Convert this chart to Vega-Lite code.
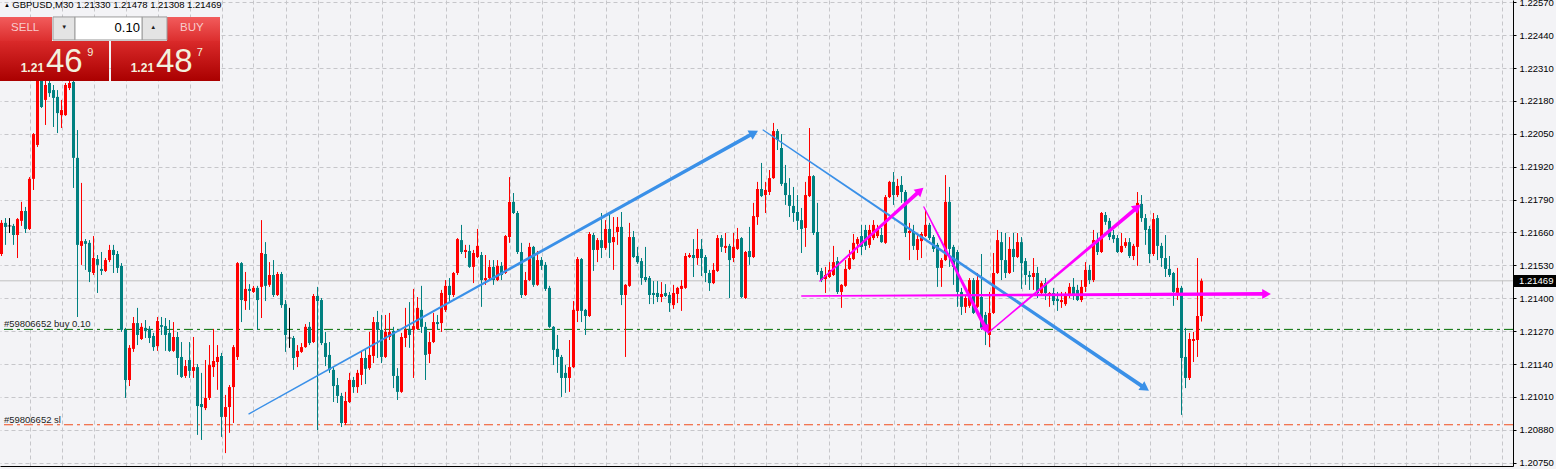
{
"$schema":"https://vega.github.io/schema/vega-lite/v6.json",
"width":1513,"height":466,
"autosize":{"type":"none"},
"padding":{"left":0,"top":0,"right":43,"bottom":3},
"background":"#f3f3f6",
"config":{"view":{"stroke":null},"font":"Liberation Sans",
 "scale":{"continuousPadding":0},
 "axisX":{"grid":true,"gridColor":"#c6c6ca","gridDash":[4,3],"gridWidth":1,"labels":false,"ticks":false,"domain":true,"domainColor":"#000000","domainWidth":1},
 "axisY":{"grid":true,"gridColor":"#c6c6ca","gridDash":[4,3],"gridWidth":1,"domain":true,"domainColor":"#000000","domainWidth":1,"ticks":true,"tickSize":3,"tickColor":"#000000","labelColor":"#000000","labelFont":"Liberation Sans","labelFontSize":9.5,"labelPadding":3,"labelOverlap":false,"labelBound":false,"labelFlush":false}},
"datasets":{"candles":[
{"i":0,"o":1.21575,"h":1.21709,"l":1.21567,"c":1.21698},
{"i":1,"o":1.21698,"h":1.21717,"l":1.21611,"c":1.21682},
{"i":2,"o":1.21686,"h":1.21717,"l":1.21658,"c":1.21686},
{"i":3,"o":1.21686,"h":1.21694,"l":1.21611,"c":1.2165},
{"i":4,"o":1.2165,"h":1.21717,"l":1.21559,"c":1.21713},
{"i":5,"o":1.21706,"h":1.21781,"l":1.21686,"c":1.21745},
{"i":6,"o":1.21745,"h":1.21761,"l":1.21658,"c":1.21674},
{"i":7,"o":1.21674,"h":1.21879,"l":1.2167,"c":1.21872},
{"i":8,"o":1.21872,"h":1.22053,"l":1.21828,"c":1.22049},
{"i":9,"o":1.22006,"h":1.22283,"l":1.21998,"c":1.22263},
{"i":10,"o":1.22263,"h":1.22294,"l":1.22152,"c":1.22156},
{"i":11,"o":1.22184,"h":1.22263,"l":1.22085,"c":1.22243},
{"i":12,"o":1.22251,"h":1.22271,"l":1.22196,"c":1.22211},
{"i":13,"o":1.22223,"h":1.22243,"l":1.22077,"c":1.22192},
{"i":14,"o":1.22196,"h":1.22223,"l":1.22053,"c":1.22132},
{"i":15,"o":1.22124,"h":1.22184,"l":1.22073,"c":1.22144},
{"i":16,"o":1.22124,"h":1.22251,"l":1.22121,"c":1.22243},
{"i":17,"o":1.22231,"h":1.22263,"l":1.22223,"c":1.22251},
{"i":18,"o":1.22255,"h":1.22271,"l":1.21836,"c":1.21955},
{"i":19,"o":1.21955,"h":1.22065,"l":1.21326,"c":1.21611},
{"i":20,"o":1.21607,"h":1.21856,"l":1.21532,"c":1.21626},
{"i":21,"o":1.21626,"h":1.21634,"l":1.21512,"c":1.21615},
{"i":22,"o":1.21619,"h":1.2163,"l":1.21464,"c":1.21504},
{"i":23,"o":1.215,"h":1.21646,"l":1.21492,"c":1.21559},
{"i":24,"o":1.21555,"h":1.21571,"l":1.21421,"c":1.21532},
{"i":25,"o":1.21516,"h":1.21583,"l":1.21492,"c":1.21508},
{"i":26,"o":1.21508,"h":1.21559,"l":1.21504,"c":1.21551},
{"i":27,"o":1.21551,"h":1.21611,"l":1.21543,"c":1.21591},
{"i":28,"o":1.21591,"h":1.21611,"l":1.215,"c":1.21571},
{"i":29,"o":1.21575,"h":1.21587,"l":1.215,"c":1.2152},
{"i":30,"o":1.21528,"h":1.21539,"l":1.21267,"c":1.21275},
{"i":31,"o":1.21275,"h":1.21283,"l":1.21006,"c":1.21077},
{"i":32,"o":1.21077,"h":1.21215,"l":1.21053,"c":1.21204},
{"i":33,"o":1.212,"h":1.21326,"l":1.21188,"c":1.21302},
{"i":34,"o":1.21302,"h":1.21362,"l":1.21215,"c":1.21255},
{"i":35,"o":1.21239,"h":1.21302,"l":1.21235,"c":1.21287},
{"i":36,"o":1.21283,"h":1.21314,"l":1.21243,"c":1.21271},
{"i":37,"o":1.21279,"h":1.2129,"l":1.21223,"c":1.21243},
{"i":38,"o":1.21251,"h":1.21263,"l":1.21192,"c":1.21207},
{"i":39,"o":1.21211,"h":1.21326,"l":1.21192,"c":1.2131},
{"i":40,"o":1.21294,"h":1.21326,"l":1.21255,"c":1.21287},
{"i":41,"o":1.2129,"h":1.21322,"l":1.21192,"c":1.21255},
{"i":42,"o":1.21263,"h":1.21314,"l":1.21188,"c":1.21192},
{"i":43,"o":1.21192,"h":1.21306,"l":1.21188,"c":1.21247},
{"i":44,"o":1.21247,"h":1.21267,"l":1.21097,"c":1.21164},
{"i":45,"o":1.21168,"h":1.21227,"l":1.21085,"c":1.21089},
{"i":46,"o":1.21093,"h":1.21156,"l":1.21085,"c":1.21132},
{"i":47,"o":1.21156,"h":1.21227,"l":1.21085,"c":1.21113},
{"i":48,"o":1.21113,"h":1.21247,"l":1.21085,"c":1.21128},
{"i":49,"o":1.21128,"h":1.2114,"l":1.2086,"c":1.20974},
{"i":50,"o":1.20982,"h":1.21105,"l":1.2084,"c":1.2097},
{"i":51,"o":1.20966,"h":1.21156,"l":1.20958,"c":1.21006},
{"i":52,"o":1.21006,"h":1.21215,"l":1.20998,"c":1.21136},
{"i":53,"o":1.21128,"h":1.21279,"l":1.21089,"c":1.21152},
{"i":54,"o":1.21148,"h":1.21215,"l":1.21038,"c":1.21168},
{"i":55,"o":1.21172,"h":1.21184,"l":1.20852,"c":1.20931},
{"i":56,"o":1.20931,"h":1.21018,"l":1.20788,"c":1.2097},
{"i":57,"o":1.2097,"h":1.21057,"l":1.20868,"c":1.21049},
{"i":58,"o":1.21049,"h":1.21215,"l":1.20907,"c":1.21207},
{"i":59,"o":1.21168,"h":1.21543,"l":1.21156,"c":1.21539},
{"i":60,"o":1.21539,"h":1.21543,"l":1.21306,"c":1.21393},
{"i":61,"o":1.21389,"h":1.21504,"l":1.21354,"c":1.21437},
{"i":62,"o":1.21437,"h":1.21456,"l":1.21354,"c":1.21429},
{"i":63,"o":1.21425,"h":1.21449,"l":1.21421,"c":1.21441},
{"i":64,"o":1.21441,"h":1.21449,"l":1.21275,"c":1.21393},
{"i":65,"o":1.21445,"h":1.21709,"l":1.21322,"c":1.21579},
{"i":66,"o":1.21575,"h":1.21622,"l":1.21389,"c":1.21449},
{"i":67,"o":1.21453,"h":1.21543,"l":1.21445,"c":1.21492},
{"i":68,"o":1.21492,"h":1.21551,"l":1.21405,"c":1.21413},
{"i":69,"o":1.21413,"h":1.21504,"l":1.21409,"c":1.21496},
{"i":70,"o":1.21496,"h":1.21504,"l":1.21362,"c":1.21373},
{"i":71,"o":1.21377,"h":1.21393,"l":1.21188,"c":1.21255},
{"i":72,"o":1.21243,"h":1.21362,"l":1.21204,"c":1.21243},
{"i":73,"o":1.21243,"h":1.21251,"l":1.21117,"c":1.21164},
{"i":74,"o":1.21168,"h":1.21215,"l":1.21128,"c":1.21192},
{"i":75,"o":1.21188,"h":1.21223,"l":1.21184,"c":1.21207},
{"i":76,"o":1.21207,"h":1.21298,"l":1.21204,"c":1.21287},
{"i":77,"o":1.21287,"h":1.21306,"l":1.21215,"c":1.21223},
{"i":78,"o":1.21227,"h":1.21417,"l":1.21223,"c":1.21409},
{"i":79,"o":1.21409,"h":1.21445,"l":1.20879,"c":1.21389},
{"i":80,"o":1.21393,"h":1.21401,"l":1.21215,"c":1.21223},
{"i":81,"o":1.21223,"h":1.21267,"l":1.21132,"c":1.21168},
{"i":82,"o":1.21176,"h":1.21227,"l":1.21105,"c":1.21117},
{"i":83,"o":1.21117,"h":1.21128,"l":1.2099,"c":1.21053},
{"i":84,"o":1.21057,"h":1.21085,"l":1.20986,"c":1.21014},
{"i":85,"o":1.21014,"h":1.21026,"l":1.20891,"c":1.20907},
{"i":86,"o":1.20907,"h":1.2103,"l":1.20899,"c":1.20994},
{"i":87,"o":1.2099,"h":1.21105,"l":1.20986,"c":1.21077},
{"i":88,"o":1.21077,"h":1.21089,"l":1.21026,"c":1.21049},
{"i":89,"o":1.21049,"h":1.21117,"l":1.21026,"c":1.21105},
{"i":90,"o":1.21097,"h":1.21188,"l":1.21057,"c":1.21164},
{"i":91,"o":1.21164,"h":1.21196,"l":1.21061,"c":1.21121},
{"i":92,"o":1.21124,"h":1.21267,"l":1.21117,"c":1.21176},
{"i":93,"o":1.21172,"h":1.21326,"l":1.21144,"c":1.21306},
{"i":94,"o":1.21306,"h":1.2135,"l":1.21164,"c":1.21275},
{"i":95,"o":1.21275,"h":1.21334,"l":1.21144,"c":1.21168},
{"i":96,"o":1.21168,"h":1.21334,"l":1.21164,"c":1.21267},
{"i":97,"o":1.21247,"h":1.21342,"l":1.21235,"c":1.21267},
{"i":98,"o":1.21271,"h":1.21287,"l":1.21045,"c":1.21093},
{"i":99,"o":1.21093,"h":1.21124,"l":1.20998,"c":1.2103},
{"i":100,"o":1.2103,"h":1.21263,"l":1.21026,"c":1.21247},
{"i":101,"o":1.21243,"h":1.21362,"l":1.21207,"c":1.21275},
{"i":102,"o":1.21279,"h":1.21385,"l":1.21204,"c":1.21255},
{"i":103,"o":1.21275,"h":1.21437,"l":1.21085,"c":1.2129},
{"i":104,"o":1.21279,"h":1.21405,"l":1.21275,"c":1.21362},
{"i":105,"o":1.21354,"h":1.21449,"l":1.21263,"c":1.21287},
{"i":106,"o":1.21287,"h":1.21306,"l":1.21077,"c":1.21176},
{"i":107,"o":1.2118,"h":1.21267,"l":1.21144,"c":1.21227},
{"i":108,"o":1.21227,"h":1.21342,"l":1.21223,"c":1.21306},
{"i":109,"o":1.21306,"h":1.21334,"l":1.21275,"c":1.21298},
{"i":110,"o":1.21302,"h":1.21433,"l":1.21267,"c":1.21421},
{"i":111,"o":1.21354,"h":1.21472,"l":1.21346,"c":1.21449},
{"i":112,"o":1.21449,"h":1.2148,"l":1.21381,"c":1.21413},
{"i":113,"o":1.21413,"h":1.21504,"l":1.21405,"c":1.215},
{"i":114,"o":1.215,"h":1.21638,"l":1.21492,"c":1.21634},
{"i":115,"o":1.2163,"h":1.2169,"l":1.21575,"c":1.21583},
{"i":116,"o":1.21583,"h":1.21611,"l":1.21559,"c":1.21591},
{"i":117,"o":1.21587,"h":1.21611,"l":1.2152,"c":1.21524},
{"i":118,"o":1.21524,"h":1.21591,"l":1.2146,"c":1.21579},
{"i":119,"o":1.21563,"h":1.21674,"l":1.21559,"c":1.21607},
{"i":120,"o":1.21571,"h":1.21583,"l":1.21366,"c":1.21472},
{"i":121,"o":1.21472,"h":1.21571,"l":1.21453,"c":1.2148},
{"i":122,"o":1.2148,"h":1.21551,"l":1.21472,"c":1.21524},
{"i":123,"o":1.21524,"h":1.21551,"l":1.21453,"c":1.21472},
{"i":124,"o":1.21472,"h":1.21551,"l":1.21468,"c":1.21528},
{"i":125,"o":1.21528,"h":1.21543,"l":1.21472,"c":1.21492},
{"i":126,"o":1.215,"h":1.2165,"l":1.21496,"c":1.21646},
{"i":127,"o":1.21642,"h":1.21879,"l":1.21619,"c":1.21781},
{"i":128,"o":1.21781,"h":1.21816,"l":1.21733,"c":1.21737},
{"i":129,"o":1.21737,"h":1.21745,"l":1.21575,"c":1.21583},
{"i":130,"o":1.21583,"h":1.21619,"l":1.21401,"c":1.21413},
{"i":131,"o":1.21413,"h":1.21504,"l":1.21409,"c":1.21472},
{"i":132,"o":1.21472,"h":1.21619,"l":1.21468,"c":1.21603},
{"i":133,"o":1.21603,"h":1.21607,"l":1.21445,"c":1.21453},
{"i":134,"o":1.21453,"h":1.21587,"l":1.21449,"c":1.21551},
{"i":135,"o":1.21551,"h":1.21563,"l":1.21512,"c":1.21528},
{"i":136,"o":1.21532,"h":1.21543,"l":1.21429,"c":1.21437},
{"i":137,"o":1.21441,"h":1.21449,"l":1.21283,"c":1.21287},
{"i":138,"o":1.21287,"h":1.2129,"l":1.21136,"c":1.21196},
{"i":139,"o":1.212,"h":1.21255,"l":1.21105,"c":1.21168},
{"i":140,"o":1.21168,"h":1.21176,"l":1.2101,"c":1.21085},
{"i":141,"o":1.21105,"h":1.21136,"l":1.21026,"c":1.21085},
{"i":142,"o":1.21085,"h":1.21235,"l":1.2103,"c":1.21128},
{"i":143,"o":1.21128,"h":1.21389,"l":1.21124,"c":1.21354},
{"i":144,"o":1.2135,"h":1.21563,"l":1.21306,"c":1.21555},
{"i":145,"o":1.21555,"h":1.21559,"l":1.21306,"c":1.2135},
{"i":146,"o":1.21354,"h":1.21358,"l":1.21255,"c":1.2133},
{"i":147,"o":1.2133,"h":1.21662,"l":1.21326,"c":1.21654},
{"i":148,"o":1.2165,"h":1.21658,"l":1.21508,"c":1.21591},
{"i":149,"o":1.21591,"h":1.21638,"l":1.21543,"c":1.2163},
{"i":150,"o":1.2163,"h":1.21737,"l":1.21559,"c":1.21599},
{"i":151,"o":1.21599,"h":1.21709,"l":1.21591,"c":1.21674},
{"i":152,"o":1.21674,"h":1.21737,"l":1.21559,"c":1.21619},
{"i":153,"o":1.21622,"h":1.21721,"l":1.21512,"c":1.21642},
{"i":154,"o":1.21662,"h":1.21721,"l":1.21611,"c":1.21682},
{"i":155,"o":1.21682,"h":1.21741,"l":1.21373,"c":1.21413},
{"i":156,"o":1.21413,"h":1.21456,"l":1.21168,"c":1.21453},
{"i":157,"o":1.21449,"h":1.21698,"l":1.21445,"c":1.21642},
{"i":158,"o":1.21642,"h":1.21666,"l":1.21559,"c":1.21563},
{"i":159,"o":1.21567,"h":1.21603,"l":1.21536,"c":1.21543},
{"i":160,"o":1.21547,"h":1.21559,"l":1.21453,"c":1.2148},
{"i":161,"o":1.21484,"h":1.21603,"l":1.21464,"c":1.21472},
{"i":162,"o":1.2148,"h":1.21488,"l":1.21377,"c":1.21413},
{"i":163,"o":1.21421,"h":1.21468,"l":1.21377,"c":1.21413},
{"i":164,"o":1.21421,"h":1.21468,"l":1.21385,"c":1.21405},
{"i":165,"o":1.21405,"h":1.21464,"l":1.21385,"c":1.21417},
{"i":166,"o":1.21421,"h":1.21456,"l":1.21405,"c":1.21409},
{"i":167,"o":1.21413,"h":1.21425,"l":1.21346,"c":1.21381},
{"i":168,"o":1.21373,"h":1.21453,"l":1.21358,"c":1.21421},
{"i":169,"o":1.21417,"h":1.21445,"l":1.21381,"c":1.21441},
{"i":170,"o":1.21437,"h":1.21472,"l":1.2135,"c":1.21449},
{"i":171,"o":1.21441,"h":1.21579,"l":1.21437,"c":1.21567},
{"i":172,"o":1.21563,"h":1.21579,"l":1.21559,"c":1.21571},
{"i":173,"o":1.21571,"h":1.21634,"l":1.21484,"c":1.21559},
{"i":174,"o":1.21559,"h":1.21674,"l":1.21532,"c":1.21595},
{"i":175,"o":1.21595,"h":1.21634,"l":1.21488,"c":1.21559},
{"i":176,"o":1.21563,"h":1.21571,"l":1.21464,"c":1.215},
{"i":177,"o":1.215,"h":1.21512,"l":1.21429,"c":1.2146},
{"i":178,"o":1.2146,"h":1.21539,"l":1.21456,"c":1.21512},
{"i":179,"o":1.21508,"h":1.2165,"l":1.21504,"c":1.21638},
{"i":180,"o":1.21638,"h":1.2165,"l":1.21583,"c":1.21603},
{"i":181,"o":1.21599,"h":1.21658,"l":1.21579,"c":1.21607},
{"i":182,"o":1.21607,"h":1.21615,"l":1.21401,"c":1.21551},
{"i":183,"o":1.21559,"h":1.21658,"l":1.21543,"c":1.21603},
{"i":184,"o":1.21595,"h":1.21678,"l":1.21591,"c":1.21634},
{"i":185,"o":1.21638,"h":1.21642,"l":1.21401,"c":1.21405},
{"i":186,"o":1.21401,"h":1.21587,"l":1.21397,"c":1.21583},
{"i":187,"o":1.21587,"h":1.21682,"l":1.21532,"c":1.21563},
{"i":188,"o":1.21563,"h":1.21777,"l":1.21559,"c":1.21725},
{"i":189,"o":1.21721,"h":1.2186,"l":1.2169,"c":1.21832},
{"i":190,"o":1.21832,"h":1.21935,"l":1.218,"c":1.21804},
{"i":191,"o":1.21808,"h":1.2186,"l":1.21737,"c":1.21828},
{"i":192,"o":1.2182,"h":1.21907,"l":1.21808,"c":1.21875},
{"i":193,"o":1.21875,"h":1.22093,"l":1.21872,"c":1.22061},
{"i":194,"o":1.22061,"h":1.22069,"l":1.21986,"c":1.22026},
{"i":195,"o":1.21994,"h":1.22049,"l":1.21844,"c":1.21852},
{"i":196,"o":1.21856,"h":1.21927,"l":1.21769,"c":1.21808},
{"i":197,"o":1.21808,"h":1.21875,"l":1.21721,"c":1.21765},
{"i":198,"o":1.21765,"h":1.2184,"l":1.21702,"c":1.21737},
{"i":199,"o":1.21741,"h":1.21808,"l":1.2167,"c":1.21706},
{"i":200,"o":1.21709,"h":1.21757,"l":1.21579,"c":1.21674},
{"i":201,"o":1.21678,"h":1.2186,"l":1.21603,"c":1.21808},
{"i":202,"o":1.21804,"h":1.22073,"l":1.218,"c":1.21883},
{"i":203,"o":1.21883,"h":1.21887,"l":1.2165,"c":1.21658},
{"i":204,"o":1.21662,"h":1.21777,"l":1.21492,"c":1.21504},
{"i":205,"o":1.21508,"h":1.2152,"l":1.21464,"c":1.21472},
{"i":206,"o":1.21476,"h":1.21524,"l":1.21421,"c":1.21492},
{"i":207,"o":1.21484,"h":1.21543,"l":1.2148,"c":1.21512},
{"i":208,"o":1.21492,"h":1.21607,"l":1.21488,"c":1.21543},
{"i":209,"o":1.21547,"h":1.21563,"l":1.21417,"c":1.21425},
{"i":210,"o":1.21425,"h":1.21456,"l":1.21362,"c":1.21453},
{"i":211,"o":1.21449,"h":1.21551,"l":1.21445,"c":1.21516},
{"i":212,"o":1.21516,"h":1.21591,"l":1.21512,"c":1.21559},
{"i":213,"o":1.21555,"h":1.21654,"l":1.21551,"c":1.21619},
{"i":214,"o":1.21615,"h":1.21642,"l":1.21579,"c":1.21634},
{"i":215,"o":1.21646,"h":1.2169,"l":1.21571,"c":1.21603},
{"i":216,"o":1.2167,"h":1.2169,"l":1.21591,"c":1.21607},
{"i":217,"o":1.21611,"h":1.2169,"l":1.21599,"c":1.2167},
{"i":218,"o":1.21638,"h":1.21709,"l":1.2163,"c":1.2169},
{"i":219,"o":1.21646,"h":1.2169,"l":1.21638,"c":1.2167},
{"i":220,"o":1.2165,"h":1.21678,"l":1.21619,"c":1.21622},
{"i":221,"o":1.21619,"h":1.21808,"l":1.21615,"c":1.218},
{"i":222,"o":1.218,"h":1.21864,"l":1.21796,"c":1.2186},
{"i":223,"o":1.2186,"h":1.21899,"l":1.21769,"c":1.21808},
{"i":224,"o":1.21808,"h":1.21872,"l":1.218,"c":1.21844},
{"i":225,"o":1.21848,"h":1.21883,"l":1.21777,"c":1.2182},
{"i":226,"o":1.2182,"h":1.21828,"l":1.21642,"c":1.21658},
{"i":227,"o":1.21658,"h":1.21698,"l":1.21551,"c":1.21666},
{"i":228,"o":1.21666,"h":1.2169,"l":1.21591,"c":1.21607},
{"i":229,"o":1.21591,"h":1.2165,"l":1.21551,"c":1.21634},
{"i":230,"o":1.21626,"h":1.21662,"l":1.21559,"c":1.21654},
{"i":231,"o":1.21646,"h":1.21749,"l":1.21642,"c":1.2169},
{"i":232,"o":1.2169,"h":1.21698,"l":1.2163,"c":1.21638},
{"i":233,"o":1.21642,"h":1.2165,"l":1.21583,"c":1.21595},
{"i":234,"o":1.21611,"h":1.21619,"l":1.21445,"c":1.2152},
{"i":235,"o":1.2152,"h":1.21559,"l":1.21445,"c":1.21551},
{"i":236,"o":1.21551,"h":1.21887,"l":1.21547,"c":1.21781},
{"i":237,"o":1.21781,"h":1.2184,"l":1.21524,"c":1.21595},
{"i":238,"o":1.21603,"h":1.21611,"l":1.21453,"c":1.21524},
{"i":239,"o":1.21583,"h":1.21591,"l":1.21366,"c":1.21425},
{"i":240,"o":1.21425,"h":1.21441,"l":1.21334,"c":1.21366},
{"i":241,"o":1.21366,"h":1.21409,"l":1.21342,"c":1.21401},
{"i":242,"o":1.2137,"h":1.2148,"l":1.21362,"c":1.21472},
{"i":243,"o":1.21472,"h":1.2148,"l":1.21338,"c":1.21342},
{"i":244,"o":1.21366,"h":1.215,"l":1.21362,"c":1.21472},
{"i":245,"o":1.21405,"h":1.21575,"l":1.21275,"c":1.21283},
{"i":246,"o":1.21334,"h":1.21346,"l":1.21215,"c":1.21275},
{"i":247,"o":1.21255,"h":1.21425,"l":1.21207,"c":1.21342},
{"i":248,"o":1.21342,"h":1.21579,"l":1.21338,"c":1.215},
{"i":249,"o":1.215,"h":1.2167,"l":1.21496,"c":1.2163},
{"i":250,"o":1.21622,"h":1.21662,"l":1.21472,"c":1.21551},
{"i":251,"o":1.21551,"h":1.21658,"l":1.2148,"c":1.215},
{"i":252,"o":1.215,"h":1.21642,"l":1.21496,"c":1.21595},
{"i":253,"o":1.21595,"h":1.21658,"l":1.21504,"c":1.21563},
{"i":254,"o":1.21563,"h":1.21658,"l":1.21559,"c":1.21622},
{"i":255,"o":1.21622,"h":1.21642,"l":1.21437,"c":1.21539},
{"i":256,"o":1.21547,"h":1.21559,"l":1.21453,"c":1.21492},
{"i":257,"o":1.21492,"h":1.21508,"l":1.21433,"c":1.21484},
{"i":258,"o":1.21484,"h":1.21559,"l":1.21433,"c":1.215},
{"i":259,"o":1.215,"h":1.21524,"l":1.21401,"c":1.21421},
{"i":260,"o":1.21421,"h":1.21468,"l":1.21413,"c":1.2146},
{"i":261,"o":1.2146,"h":1.2148,"l":1.21393,"c":1.21421},
{"i":262,"o":1.21413,"h":1.21425,"l":1.21366,"c":1.21421},
{"i":263,"o":1.21421,"h":1.21441,"l":1.21373,"c":1.21389},
{"i":264,"o":1.21397,"h":1.21425,"l":1.2135,"c":1.21389},
{"i":265,"o":1.21385,"h":1.21425,"l":1.21362,"c":1.21393},
{"i":266,"o":1.21377,"h":1.21425,"l":1.2137,"c":1.21409},
{"i":267,"o":1.21409,"h":1.2146,"l":1.21401,"c":1.21445},
{"i":268,"o":1.21445,"h":1.2148,"l":1.21393,"c":1.21409},
{"i":269,"o":1.21433,"h":1.21453,"l":1.21389,"c":1.21393},
{"i":270,"o":1.21393,"h":1.21472,"l":1.21385,"c":1.21445},
{"i":271,"o":1.21445,"h":1.21543,"l":1.21425,"c":1.21512},
{"i":272,"o":1.21512,"h":1.21532,"l":1.21456,"c":1.21472},
{"i":273,"o":1.21472,"h":1.2167,"l":1.21464,"c":1.2163},
{"i":274,"o":1.2163,"h":1.21658,"l":1.21571,"c":1.21583},
{"i":275,"o":1.21583,"h":1.21741,"l":1.21579,"c":1.21737},
{"i":276,"o":1.21729,"h":1.21741,"l":1.2169,"c":1.21702},
{"i":277,"o":1.21706,"h":1.21717,"l":1.2163,"c":1.21642},
{"i":278,"o":1.2165,"h":1.2167,"l":1.21619,"c":1.21634},
{"i":279,"o":1.21638,"h":1.2165,"l":1.21579,"c":1.21583},
{"i":280,"o":1.21583,"h":1.21658,"l":1.21579,"c":1.21607},
{"i":281,"o":1.21607,"h":1.21638,"l":1.21599,"c":1.21622},
{"i":282,"o":1.21622,"h":1.21638,"l":1.21559,"c":1.21567},
{"i":283,"o":1.21567,"h":1.21615,"l":1.21551,"c":1.21607},
{"i":284,"o":1.21603,"h":1.2182,"l":1.21528,"c":1.21777},
{"i":285,"o":1.21773,"h":1.21808,"l":1.21702,"c":1.21717},
{"i":286,"o":1.21717,"h":1.21733,"l":1.21611,"c":1.2167},
{"i":287,"o":1.21674,"h":1.21686,"l":1.21539,"c":1.21575},
{"i":288,"o":1.21575,"h":1.21737,"l":1.21567,"c":1.21713},
{"i":289,"o":1.21717,"h":1.21729,"l":1.21551,"c":1.21607},
{"i":290,"o":1.21607,"h":1.21619,"l":1.21524,"c":1.21559},
{"i":291,"o":1.21559,"h":1.2165,"l":1.21484,"c":1.21516},
{"i":292,"o":1.21516,"h":1.21567,"l":1.21484,"c":1.21492},
{"i":293,"o":1.215,"h":1.21504,"l":1.2137,"c":1.21425},
{"i":294,"o":1.21417,"h":1.2152,"l":1.21393,"c":1.21441},
{"i":295,"o":1.21441,"h":1.21449,"l":1.20939,"c":1.21164},
{"i":296,"o":1.21168,"h":1.21283,"l":1.21045,"c":1.21085},
{"i":297,"o":1.21085,"h":1.21263,"l":1.21077,"c":1.21239},
{"i":298,"o":1.21231,"h":1.21267,"l":1.21148,"c":1.21239},
{"i":299,"o":1.21235,"h":1.21559,"l":1.21168,"c":1.2133},
{"i":300,"o":1.2133,"h":1.21478,"l":1.21308,"c":1.21469}
]},
"layer":[
{"data":{"values":[{"p":1.21469}]},
 "mark":{"type":"rule","color":"#c0c0c0","strokeWidth":1},
 "encoding":{"y":{"field":"p","type":"quantitative","scale":{"domain":[1.20737,1.22579],"nice":false,"zero":false,"padding":0},"axis":{"orient":"right","title":null,"format":".5f","values":[1.2075,1.2088,1.2101,1.2114,1.2127,1.214,1.2153,1.2166,1.2179,1.2192,1.2205,1.2218,1.2231,1.2244,1.2257]}}}},
{"data":{"values":[{"p":1.21277}]},
 "mark":{"type":"rule","color":"#006e00","strokeWidth":1,"strokeDash":[9,4,3,4]},
 "encoding":{"y":{"field":"p","type":"quantitative","scale":{"domain":[1.20737,1.22579],"nice":false,"zero":false,"padding":0},"axis":{"orient":"right","title":null,"format":".5f","values":[1.2075,1.2088,1.2101,1.2114,1.2127,1.214,1.2153,1.2166,1.2179,1.2192,1.2205,1.2218,1.2231,1.2244,1.2257]}}}},
{"data":{"values":[{"p":1.209}]},
 "mark":{"type":"rule","color":"#f04c1c","strokeWidth":1,"strokeDash":[9,4,3,4]},
 "encoding":{"y":{"field":"p","type":"quantitative","scale":{"domain":[1.20737,1.22579],"nice":false,"zero":false,"padding":0},"axis":{"orient":"right","title":null,"format":".5f","values":[1.2075,1.2088,1.2101,1.2114,1.2127,1.214,1.2153,1.2166,1.2179,1.2192,1.2205,1.2218,1.2231,1.2244,1.2257]}}}},
{"data":{"name":"candles"},
 "mark":{"type":"rule","strokeWidth":1},
 "encoding":{
  "x":{"field":"i","type":"quantitative","scale":{"domain":[-0.375,377.875],"nice":false,"zero":false,"padding":0},"axis":{"orient":"bottom","title":null,"values":[7,15,23,31,39,47,55,63,71,79,87,95,103,111,119,127,135,143,151,159,167,175,183,191,199,207,215,223,231,239,247,255,263,271,279,287,295,303,311,319,327,335,343,351,359,367,375]}},
  "y":{"field":"l","type":"quantitative","scale":{"domain":[1.20737,1.22579],"nice":false,"zero":false,"padding":0},"axis":{"orient":"right","title":null,"format":".5f","values":[1.2075,1.2088,1.2101,1.2114,1.2127,1.214,1.2153,1.2166,1.2179,1.2192,1.2205,1.2218,1.2231,1.2244,1.2257]}},
  "y2":{"field":"h"},
  "color":{"condition":[{"test":"datum.c > datum.o","value":"#ff0000"},{"test":"datum.c < datum.o","value":"#008080"}],"value":"#000000"}}},
{"data":{"name":"candles"},
 "mark":{"type":"bar","size":3},
 "encoding":{
  "x":{"field":"i","type":"quantitative","scale":{"domain":[-0.375,377.875],"nice":false,"zero":false,"padding":0},"axis":{"orient":"bottom","title":null,"values":[7,15,23,31,39,47,55,63,71,79,87,95,103,111,119,127,135,143,151,159,167,175,183,191,199,207,215,223,231,239,247,255,263,271,279,287,295,303,311,319,327,335,343,351,359,367,375]}},
  "y":{"field":"o","type":"quantitative","scale":{"domain":[1.20737,1.22579],"nice":false,"zero":false,"padding":0},"axis":{"orient":"right","title":null,"format":".5f","values":[1.2075,1.2088,1.2101,1.2114,1.2127,1.214,1.2153,1.2166,1.2179,1.2192,1.2205,1.2218,1.2231,1.2244,1.2257]}},
  "y2":{"field":"c"},
  "color":{"condition":[{"test":"datum.c > datum.o","value":"#ff0000"},{"test":"datum.c < datum.o","value":"#008080"}],"value":"#000000"}}},
{"data":{"name":"candles"},
 "transform":[{"filter":"datum.o == datum.c"}],
 "mark":{"type":"tick","orient":"horizontal","size":4,"thickness":1,"color":"#000000"},
 "encoding":{
  "x":{"field":"i","type":"quantitative","scale":{"domain":[-0.375,377.875],"nice":false,"zero":false,"padding":0},"axis":{"orient":"bottom","title":null,"values":[7,15,23,31,39,47,55,63,71,79,87,95,103,111,119,127,135,143,151,159,167,175,183,191,199,207,215,223,231,239,247,255,263,271,279,287,295,303,311,319,327,335,343,351,359,367,375]}},
  "y":{"field":"o","type":"quantitative","scale":{"domain":[1.20737,1.22579],"nice":false,"zero":false,"padding":0},"axis":{"orient":"right","title":null,"format":".5f","values":[1.2075,1.2088,1.2101,1.2114,1.2127,1.214,1.2153,1.2166,1.2179,1.2192,1.2205,1.2218,1.2231,1.2244,1.2257]}}}},
{"data":{"values":[{"t":"#59806652 buy 0.10","i":0.6,"p":1.21277},{"t":"#59806652 sl","i":0.6,"p":1.209}]},
 "mark":{"type":"text","align":"left","baseline":"alphabetic","dy":-2,"fontSize":9.5,"color":"#1e1e1e"},
 "encoding":{
  "x":{"field":"i","type":"quantitative","scale":{"domain":[-0.375,377.875],"nice":false,"zero":false,"padding":0},"axis":{"orient":"bottom","title":null,"values":[7,15,23,31,39,47,55,63,71,79,87,95,103,111,119,127,135,143,151,159,167,175,183,191,199,207,215,223,231,239,247,255,263,271,279,287,295,303,311,319,327,335,343,351,359,367,375]}},
  "y":{"field":"p","type":"quantitative","scale":{"domain":[1.20737,1.22579],"nice":false,"zero":false,"padding":0},"axis":{"orient":"right","title":null,"format":".5f","values":[1.2075,1.2088,1.2101,1.2114,1.2127,1.214,1.2153,1.2166,1.2179,1.2192,1.2205,1.2218,1.2231,1.2244,1.2257]}},
  "text":{"field":"t"}}},
{"data":{"values":[{"seg":"b1","i":61.875,"p":1.20943,"w":0},{"seg":"b1","i":187.8,"p":1.22051,"w":1},{"seg":"b2","i":190.4,"p":1.22065,"w":0},{"seg":"b2","i":285.6,"p":1.21048,"w":1},{"seg":"m1","i":204.6,"p":1.21468,"w":0},{"seg":"m1","i":229.4,"p":1.21822,"w":1},{"seg":"m2","i":230.6,"p":1.21761,"w":0},{"seg":"m2","i":246.05,"p":1.21281,"w":1},{"seg":"m3","i":246.6,"p":1.21263,"w":0},{"seg":"m3","i":283.7,"p":1.21756,"w":1},{"seg":"m4","i":200.05,"p":1.21409,"w":0},{"seg":"m4","i":315.9,"p":1.21417,"w":1}]},
 "mark":{"type":"trail"},
 "encoding":{
  "x":{"field":"i","type":"quantitative","scale":{"domain":[-0.375,377.875],"nice":false,"zero":false,"padding":0},"axis":{"orient":"bottom","title":null,"values":[7,15,23,31,39,47,55,63,71,79,87,95,103,111,119,127,135,143,151,159,167,175,183,191,199,207,215,223,231,239,247,255,263,271,279,287,295,303,311,319,327,335,343,351,359,367,375]}},
  "y":{"field":"p","type":"quantitative","scale":{"domain":[1.20737,1.22579],"nice":false,"zero":false,"padding":0},"axis":{"orient":"right","title":null,"format":".5f","values":[1.2075,1.2088,1.2101,1.2114,1.2127,1.214,1.2153,1.2166,1.2179,1.2192,1.2205,1.2218,1.2231,1.2244,1.2257]}},
  "size":{"field":"w","type":"quantitative","scale":{"domain":[0,1],"range":[1.3,3.8]},"legend":null},
  "color":{"field":"seg","type":"nominal","scale":{"domain":["b1","b2","m1","m2","m3","m4"],"range":["#3a90e8","#3a90e8","#ff00ff","#ff00ff","#ff00ff","#ff00ff"]},"legend":null},
  "detail":{"field":"seg"}}},
{"data":{"values":[{"i":187.8,"p":1.22051}]},
 "mark":{"type":"point","shape":"triangle","filled":true,"size":110,"angle":61,"color":"#3a90e8","opacity":1},
 "encoding":{"x":{"field":"i","type":"quantitative","scale":{"domain":[-0.375,377.875],"nice":false,"zero":false,"padding":0},"axis":{"orient":"bottom","title":null,"values":[7,15,23,31,39,47,55,63,71,79,87,95,103,111,119,127,135,143,151,159,167,175,183,191,199,207,215,223,231,239,247,255,263,271,279,287,295,303,311,319,327,335,343,351,359,367,375]}},
  "y":{"field":"p","type":"quantitative","scale":{"domain":[1.20737,1.22579],"nice":false,"zero":false,"padding":0},"axis":{"orient":"right","title":null,"format":".5f","values":[1.2075,1.2088,1.2101,1.2114,1.2127,1.214,1.2153,1.2166,1.2179,1.2192,1.2205,1.2218,1.2231,1.2244,1.2257]}}}},
{"data":{"values":[{"i":285.6,"p":1.21048}]},
 "mark":{"type":"point","shape":"triangle","filled":true,"size":110,"angle":124,"color":"#3a90e8","opacity":1},
 "encoding":{"x":{"field":"i","type":"quantitative","scale":{"domain":[-0.375,377.875],"nice":false,"zero":false,"padding":0},"axis":{"orient":"bottom","title":null,"values":[7,15,23,31,39,47,55,63,71,79,87,95,103,111,119,127,135,143,151,159,167,175,183,191,199,207,215,223,231,239,247,255,263,271,279,287,295,303,311,319,327,335,343,351,359,367,375]}},
  "y":{"field":"p","type":"quantitative","scale":{"domain":[1.20737,1.22579],"nice":false,"zero":false,"padding":0},"axis":{"orient":"right","title":null,"format":".5f","values":[1.2075,1.2088,1.2101,1.2114,1.2127,1.214,1.2153,1.2166,1.2179,1.2192,1.2205,1.2218,1.2231,1.2244,1.2257]}}}},
{"data":{"values":[{"i":229.4,"p":1.21822}]},
 "mark":{"type":"point","shape":"triangle","filled":true,"size":100,"angle":48,"color":"#ff00ff","opacity":1},
 "encoding":{"x":{"field":"i","type":"quantitative","scale":{"domain":[-0.375,377.875],"nice":false,"zero":false,"padding":0},"axis":{"orient":"bottom","title":null,"values":[7,15,23,31,39,47,55,63,71,79,87,95,103,111,119,127,135,143,151,159,167,175,183,191,199,207,215,223,231,239,247,255,263,271,279,287,295,303,311,319,327,335,343,351,359,367,375]}},
  "y":{"field":"p","type":"quantitative","scale":{"domain":[1.20737,1.22579],"nice":false,"zero":false,"padding":0},"axis":{"orient":"right","title":null,"format":".5f","values":[1.2075,1.2088,1.2101,1.2114,1.2127,1.214,1.2153,1.2166,1.2179,1.2192,1.2205,1.2218,1.2231,1.2244,1.2257]}}}},
{"data":{"values":[{"i":246.05,"p":1.21281}]},
 "mark":{"type":"point","shape":"triangle","filled":true,"size":100,"angle":153,"color":"#ff00ff","opacity":1},
 "encoding":{"x":{"field":"i","type":"quantitative","scale":{"domain":[-0.375,377.875],"nice":false,"zero":false,"padding":0},"axis":{"orient":"bottom","title":null,"values":[7,15,23,31,39,47,55,63,71,79,87,95,103,111,119,127,135,143,151,159,167,175,183,191,199,207,215,223,231,239,247,255,263,271,279,287,295,303,311,319,327,335,343,351,359,367,375]}},
  "y":{"field":"p","type":"quantitative","scale":{"domain":[1.20737,1.22579],"nice":false,"zero":false,"padding":0},"axis":{"orient":"right","title":null,"format":".5f","values":[1.2075,1.2088,1.2101,1.2114,1.2127,1.214,1.2153,1.2166,1.2179,1.2192,1.2205,1.2218,1.2231,1.2244,1.2257]}}}},
{"data":{"values":[{"i":283.7,"p":1.21756}]},
 "mark":{"type":"point","shape":"triangle","filled":true,"size":100,"angle":49,"color":"#ff00ff","opacity":1},
 "encoding":{"x":{"field":"i","type":"quantitative","scale":{"domain":[-0.375,377.875],"nice":false,"zero":false,"padding":0},"axis":{"orient":"bottom","title":null,"values":[7,15,23,31,39,47,55,63,71,79,87,95,103,111,119,127,135,143,151,159,167,175,183,191,199,207,215,223,231,239,247,255,263,271,279,287,295,303,311,319,327,335,343,351,359,367,375]}},
  "y":{"field":"p","type":"quantitative","scale":{"domain":[1.20737,1.22579],"nice":false,"zero":false,"padding":0},"axis":{"orient":"right","title":null,"format":".5f","values":[1.2075,1.2088,1.2101,1.2114,1.2127,1.214,1.2153,1.2166,1.2179,1.2192,1.2205,1.2218,1.2231,1.2244,1.2257]}}}},
{"data":{"values":[{"i":315.9,"p":1.21417}]},
 "mark":{"type":"point","shape":"triangle","filled":true,"size":100,"angle":90,"color":"#ff00ff","opacity":1},
 "encoding":{"x":{"field":"i","type":"quantitative","scale":{"domain":[-0.375,377.875],"nice":false,"zero":false,"padding":0},"axis":{"orient":"bottom","title":null,"values":[7,15,23,31,39,47,55,63,71,79,87,95,103,111,119,127,135,143,151,159,167,175,183,191,199,207,215,223,231,239,247,255,263,271,279,287,295,303,311,319,327,335,343,351,359,367,375]}},
  "y":{"field":"p","type":"quantitative","scale":{"domain":[1.20737,1.22579],"nice":false,"zero":false,"padding":0},"axis":{"orient":"right","title":null,"format":".5f","values":[1.2075,1.2088,1.2101,1.2114,1.2127,1.214,1.2153,1.2166,1.2179,1.2192,1.2205,1.2218,1.2231,1.2244,1.2257]}}}},
{"data":{"values":[{"t":"▲","i":0.6,"p":1.22561,"g":"s"},{"t":"GBPUSD,M30  1.21330 1.21478 1.21308 1.21469","i":2.7,"p":1.22559,"g":"h"}]},
 "mark":{"type":"text","align":"left","baseline":"middle","color":"#000000"},
 "encoding":{"x":{"field":"i","type":"quantitative","scale":{"domain":[-0.375,377.875],"nice":false,"zero":false,"padding":0},"axis":{"orient":"bottom","title":null,"values":[7,15,23,31,39,47,55,63,71,79,87,95,103,111,119,127,135,143,151,159,167,175,183,191,199,207,215,223,231,239,247,255,263,271,279,287,295,303,311,319,327,335,343,351,359,367,375]}},
  "y":{"field":"p","type":"quantitative","scale":{"domain":[1.20737,1.22579],"nice":false,"zero":false,"padding":0},"axis":{"orient":"right","title":null,"format":".5f","values":[1.2075,1.2088,1.2101,1.2114,1.2127,1.214,1.2153,1.2166,1.2179,1.2192,1.2205,1.2218,1.2231,1.2244,1.2257]}},
  "size":{"field":"g","type":"nominal","scale":{"domain":["s","h"],"range":[6,9.5]},"legend":null},
  "text":{"field":"t"}}},
{"data":{"values":[{"a":-0.375,"b":12.625,"p1":1.22512,"p2":1.22417},{"a":41.375,"b":54.625,"p1":1.22512,"p2":1.22417}]},
 "mark":{"type":"rect","color":{"gradient":"linear","x1":0,"y1":0,"x2":0,"y2":1,"stops":[{"offset":0,"color":"#f25c5c"},{"offset":1,"color":"#dc2e2e"}]}},
 "encoding":{"x":{"field":"a","type":"quantitative","scale":{"domain":[-0.375,377.875],"nice":false,"zero":false,"padding":0},"axis":{"orient":"bottom","title":null,"values":[7,15,23,31,39,47,55,63,71,79,87,95,103,111,119,127,135,143,151,159,167,175,183,191,199,207,215,223,231,239,247,255,263,271,279,287,295,303,311,319,327,335,343,351,359,367,375]}},"x2":{"field":"b"},
  "y":{"field":"p1","type":"quantitative","scale":{"domain":[1.20737,1.22579],"nice":false,"zero":false,"padding":0},"axis":{"orient":"right","title":null,"format":".5f","values":[1.2075,1.2088,1.2101,1.2114,1.2127,1.214,1.2153,1.2166,1.2179,1.2192,1.2205,1.2218,1.2231,1.2244,1.2257]}},"y2":{"field":"p2"}}},
{"data":{"values":[{"a":-0.375,"b":26.875,"p1":1.22417,"p2":1.22259},{"a":27.375,"b":54.625,"p1":1.22417,"p2":1.22259}]},
 "mark":{"type":"rect","color":{"gradient":"linear","x1":0,"y1":0,"x2":0,"y2":1,"stops":[{"offset":0,"color":"#da2a2a"},{"offset":1,"color":"#aa0000"}]}},
 "encoding":{"x":{"field":"a","type":"quantitative","scale":{"domain":[-0.375,377.875],"nice":false,"zero":false,"padding":0},"axis":{"orient":"bottom","title":null,"values":[7,15,23,31,39,47,55,63,71,79,87,95,103,111,119,127,135,143,151,159,167,175,183,191,199,207,215,223,231,239,247,255,263,271,279,287,295,303,311,319,327,335,343,351,359,367,375]}},"x2":{"field":"b"},
  "y":{"field":"p1","type":"quantitative","scale":{"domain":[1.20737,1.22579],"nice":false,"zero":false,"padding":0},"axis":{"orient":"right","title":null,"format":".5f","values":[1.2075,1.2088,1.2101,1.2114,1.2127,1.214,1.2153,1.2166,1.2179,1.2192,1.2205,1.2218,1.2231,1.2244,1.2257]}},"y2":{"field":"p2"}}},
{"data":{"values":[{"a":12.875,"b":18.375,"p1":1.22512,"p2":1.22421,"g":"btn"},{"a":35.125,"b":41.375,"p1":1.22512,"p2":1.22421,"g":"btn"},{"a":18.375,"b":35.125,"p1":1.22512,"p2":1.22421,"g":"field"}]},
 "mark":{"type":"rect","stroke":"#9c9c9c","strokeWidth":1},
 "encoding":{"x":{"field":"a","type":"quantitative","scale":{"domain":[-0.375,377.875],"nice":false,"zero":false,"padding":0},"axis":{"orient":"bottom","title":null,"values":[7,15,23,31,39,47,55,63,71,79,87,95,103,111,119,127,135,143,151,159,167,175,183,191,199,207,215,223,231,239,247,255,263,271,279,287,295,303,311,319,327,335,343,351,359,367,375]}},"x2":{"field":"b"},
  "y":{"field":"p1","type":"quantitative","scale":{"domain":[1.20737,1.22579],"nice":false,"zero":false,"padding":0},"axis":{"orient":"right","title":null,"format":".5f","values":[1.2075,1.2088,1.2101,1.2114,1.2127,1.214,1.2153,1.2166,1.2179,1.2192,1.2205,1.2218,1.2231,1.2244,1.2257]}},"y2":{"field":"p2"},
  "fill":{"field":"g","type":"nominal","scale":{"domain":["btn","field"],"range":["#e4e4e4","#ffffff"]},"legend":null}}},
{"data":{"values":[{"t":"SELL","i":5.9,"p":1.22467},{"t":"BUY","i":47.6,"p":1.22467}]},
 "mark":{"type":"text","align":"center","baseline":"middle","fontSize":11.5,"color":"#f8cccc"},
 "encoding":{"x":{"field":"i","type":"quantitative","scale":{"domain":[-0.375,377.875],"nice":false,"zero":false,"padding":0},"axis":{"orient":"bottom","title":null,"values":[7,15,23,31,39,47,55,63,71,79,87,95,103,111,119,127,135,143,151,159,167,175,183,191,199,207,215,223,231,239,247,255,263,271,279,287,295,303,311,319,327,335,343,351,359,367,375]}},
  "y":{"field":"p","type":"quantitative","scale":{"domain":[1.20737,1.22579],"nice":false,"zero":false,"padding":0},"axis":{"orient":"right","title":null,"format":".5f","values":[1.2075,1.2088,1.2101,1.2114,1.2127,1.214,1.2153,1.2166,1.2179,1.2192,1.2205,1.2218,1.2231,1.2244,1.2257]}},
  "text":{"field":"t"}}},
{"data":{"values":[{"t":"0.10","i":34.6,"p":1.22467}]},
 "mark":{"type":"text","align":"right","baseline":"middle","fontSize":13,"color":"#000000"},
 "encoding":{"x":{"field":"i","type":"quantitative","scale":{"domain":[-0.375,377.875],"nice":false,"zero":false,"padding":0},"axis":{"orient":"bottom","title":null,"values":[7,15,23,31,39,47,55,63,71,79,87,95,103,111,119,127,135,143,151,159,167,175,183,191,199,207,215,223,231,239,247,255,263,271,279,287,295,303,311,319,327,335,343,351,359,367,375]}},
  "y":{"field":"p","type":"quantitative","scale":{"domain":[1.20737,1.22579],"nice":false,"zero":false,"padding":0},"axis":{"orient":"right","title":null,"format":".5f","values":[1.2075,1.2088,1.2101,1.2114,1.2127,1.214,1.2153,1.2166,1.2179,1.2192,1.2205,1.2218,1.2231,1.2244,1.2257]}},
  "text":{"field":"t"}}},
{"data":{"values":[{"t":"▼","i":15.7,"p":1.22473},{"t":"▲","i":37.95,"p":1.22473}]},
 "mark":{"type":"text","align":"center","baseline":"middle","fontSize":6,"color":"#202020"},
 "encoding":{"x":{"field":"i","type":"quantitative","scale":{"domain":[-0.375,377.875],"nice":false,"zero":false,"padding":0},"axis":{"orient":"bottom","title":null,"values":[7,15,23,31,39,47,55,63,71,79,87,95,103,111,119,127,135,143,151,159,167,175,183,191,199,207,215,223,231,239,247,255,263,271,279,287,295,303,311,319,327,335,343,351,359,367,375]}},
  "y":{"field":"p","type":"quantitative","scale":{"domain":[1.20737,1.22579],"nice":false,"zero":false,"padding":0},"axis":{"orient":"right","title":null,"format":".5f","values":[1.2075,1.2088,1.2101,1.2114,1.2127,1.214,1.2153,1.2166,1.2179,1.2192,1.2205,1.2218,1.2231,1.2244,1.2257]}},
  "text":{"field":"t"}}},
{"data":{"values":[{"t":"1.21","i":4.8,"p":1.22295},{"t":"1.21","i":32.3,"p":1.22295}]},
 "mark":{"type":"text","align":"left","baseline":"alphabetic","fontSize":12,"fontWeight":"bold","color":"#f3f1de"},
 "encoding":{"x":{"field":"i","type":"quantitative","scale":{"domain":[-0.375,377.875],"nice":false,"zero":false,"padding":0},"axis":{"orient":"bottom","title":null,"values":[7,15,23,31,39,47,55,63,71,79,87,95,103,111,119,127,135,143,151,159,167,175,183,191,199,207,215,223,231,239,247,255,263,271,279,287,295,303,311,319,327,335,343,351,359,367,375]}},
  "y":{"field":"p","type":"quantitative","scale":{"domain":[1.20737,1.22579],"nice":false,"zero":false,"padding":0},"axis":{"orient":"right","title":null,"format":".5f","values":[1.2075,1.2088,1.2101,1.2114,1.2127,1.214,1.2153,1.2166,1.2179,1.2192,1.2205,1.2218,1.2231,1.2244,1.2257]}},
  "text":{"field":"t"}}},
{"data":{"values":[{"t":"46","i":11.1,"p":1.22295},{"t":"48","i":38.6,"p":1.22295}]},
 "mark":{"type":"text","align":"left","baseline":"alphabetic","fontSize":33,"color":"#f3f1de"},
 "encoding":{"x":{"field":"i","type":"quantitative","scale":{"domain":[-0.375,377.875],"nice":false,"zero":false,"padding":0},"axis":{"orient":"bottom","title":null,"values":[7,15,23,31,39,47,55,63,71,79,87,95,103,111,119,127,135,143,151,159,167,175,183,191,199,207,215,223,231,239,247,255,263,271,279,287,295,303,311,319,327,335,343,351,359,367,375]}},
  "y":{"field":"p","type":"quantitative","scale":{"domain":[1.20737,1.22579],"nice":false,"zero":false,"padding":0},"axis":{"orient":"right","title":null,"format":".5f","values":[1.2075,1.2088,1.2101,1.2114,1.2127,1.214,1.2153,1.2166,1.2179,1.2192,1.2205,1.2218,1.2231,1.2244,1.2257]}},
  "text":{"field":"t"}}},
{"data":{"values":[{"t":"9","i":21.45,"p":1.22358},{"t":"7","i":48.8,"p":1.22358}]},
 "mark":{"type":"text","align":"left","baseline":"alphabetic","fontSize":11,"color":"#f3f1de"},
 "encoding":{"x":{"field":"i","type":"quantitative","scale":{"domain":[-0.375,377.875],"nice":false,"zero":false,"padding":0},"axis":{"orient":"bottom","title":null,"values":[7,15,23,31,39,47,55,63,71,79,87,95,103,111,119,127,135,143,151,159,167,175,183,191,199,207,215,223,231,239,247,255,263,271,279,287,295,303,311,319,327,335,343,351,359,367,375]}},
  "y":{"field":"p","type":"quantitative","scale":{"domain":[1.20737,1.22579],"nice":false,"zero":false,"padding":0},"axis":{"orient":"right","title":null,"format":".5f","values":[1.2075,1.2088,1.2101,1.2114,1.2127,1.214,1.2153,1.2166,1.2179,1.2192,1.2205,1.2218,1.2231,1.2244,1.2257]}},
  "text":{"field":"t"}}},
{"data":{"values":[{"a":378.125,"b":388.625,"p1":1.21492,"p2":1.21445}]},
 "mark":{"type":"rect","color":"#000000"},
 "encoding":{"x":{"field":"a","type":"quantitative","scale":{"domain":[-0.375,377.875],"nice":false,"zero":false,"padding":0},"axis":{"orient":"bottom","title":null,"values":[7,15,23,31,39,47,55,63,71,79,87,95,103,111,119,127,135,143,151,159,167,175,183,191,199,207,215,223,231,239,247,255,263,271,279,287,295,303,311,319,327,335,343,351,359,367,375]}},"x2":{"field":"b"},
  "y":{"field":"p1","type":"quantitative","scale":{"domain":[1.20737,1.22579],"nice":false,"zero":false,"padding":0},"axis":{"orient":"right","title":null,"format":".5f","values":[1.2075,1.2088,1.2101,1.2114,1.2127,1.214,1.2153,1.2166,1.2179,1.2192,1.2205,1.2218,1.2231,1.2244,1.2257]}},"y2":{"field":"p2"}}},
{"data":{"values":[{"t":"1.21469","i":379.4,"p":1.21469}]},
 "mark":{"type":"text","align":"left","baseline":"middle","fontSize":9.5,"color":"#ffffff"},
 "encoding":{"x":{"field":"i","type":"quantitative","scale":{"domain":[-0.375,377.875],"nice":false,"zero":false,"padding":0},"axis":{"orient":"bottom","title":null,"values":[7,15,23,31,39,47,55,63,71,79,87,95,103,111,119,127,135,143,151,159,167,175,183,191,199,207,215,223,231,239,247,255,263,271,279,287,295,303,311,319,327,335,343,351,359,367,375]}},
  "y":{"field":"p","type":"quantitative","scale":{"domain":[1.20737,1.22579],"nice":false,"zero":false,"padding":0},"axis":{"orient":"right","title":null,"format":".5f","values":[1.2075,1.2088,1.2101,1.2114,1.2127,1.214,1.2153,1.2166,1.2179,1.2192,1.2205,1.2218,1.2231,1.2244,1.2257]}},
  "text":{"field":"t"}}}
]
}
